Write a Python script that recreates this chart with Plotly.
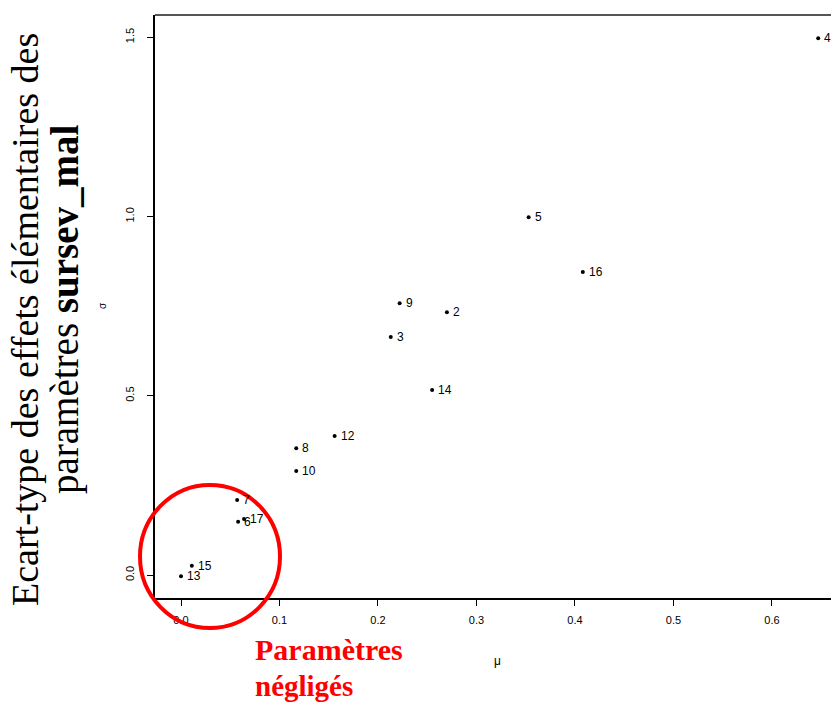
import plotly.graph_objects as go

# Morris screening results: mean (mu) and standard deviation (sigma) of elementary effects
params = ["4", "5", "16", "9", "2", "3", "14", "12", "8", "10", "7", "6", "17", "15", "13"]
mu = [0.647, 0.353, 0.408, 0.222, 0.270, 0.213, 0.255, 0.156, 0.117, 0.117, 0.057, 0.058, 0.064, 0.011, 0.000]
sigma = [1.497, 0.998, 0.845, 0.758, 0.733, 0.664, 0.516, 0.388, 0.354, 0.290, 0.209, 0.149, 0.156, 0.026, -0.003]

x_ticks = [0.0, 0.1, 0.2, 0.3, 0.4, 0.5, 0.6]
y_ticks = [0.0, 0.5, 1.0, 1.5]

W, H = 831, 705
ML, MR, MT, MB = 155, 0, 15, 107
PW, PH = W - ML - MR, H - MT - MB


def px(xpix):
    return (xpix - ML) / PW


def py(ypix):
    return (H - MB - ypix) / PH


fig = go.Figure()
fig.add_trace(go.Scatter(
    x=mu, y=sigma, mode="markers",
    marker=dict(color="black", size=4),
    cliponaxis=False, hoverinfo="skip", showlegend=False,
))

# Parameter numbers written just to the right of each point
for name, xv, yv in zip(params, mu, sigma):
    fig.add_annotation(x=xv, y=yv, xref="x", yref="y", text=name, showarrow=False,
                       xanchor="left", yanchor="middle", xshift=4,
                       font=dict(family="Liberation Sans, Arial", size=12, color="black"))

axis_font = dict(family="Liberation Sans, Arial", size=11, color="black")
fig.update_layout(
    width=W, height=H,
    margin=dict(l=ML, r=MR, t=MT, b=MB),
    paper_bgcolor="white", plot_bgcolor="white",
    xaxis=dict(range=[-0.0264, 0.660], tickvals=x_ticks,
               ticktext=[f"{v:.1f}" for v in x_ticks],
               showgrid=False, zeroline=False, showline=True, linecolor="black",
               linewidth=1.5, ticks="outside", ticklen=6, ticklabelstandoff=5,
               tickcolor="black", tickfont=axis_font),
    yaxis=dict(range=[-0.064, 1.562], tickvals=y_ticks,
               ticktext=[f"{v:.1f}" for v in y_ticks], tickangle=-90,
               showgrid=False, zeroline=False, showline=True, linecolor="black",
               linewidth=2, ticks="outside", ticklen=6, ticklabelstandoff=9,
               tickcolor="black", tickfont=axis_font),
    font=dict(family="Liberation Sans, Arial", color="black"),
)

# Top frame line
fig.add_shape(type="line", xref="paper", yref="paper", x0=0, x1=1, y0=1, y1=1,
              line=dict(color="#555555", width=2))

serif = "Liberation Serif, Times New Roman"
annotations = [
    dict(text="Ecart-type des effets élémentaires des", x=px(25), y=py(320),
         textangle=-90, font=dict(family=serif, size=38, color="black")),
    dict(text="paramètres <b>sursev_mal</b>", x=px(65), y=py(309),
         textangle=-90, font=dict(family=serif, size=39, color="black")),
    dict(text="σ", x=px(102), y=py(306), textangle=-90,
         font=dict(family="Liberation Sans, Arial", size=10, color="black")),
    dict(text="μ", x=px(497), y=py(661),
         font=dict(family="Liberation Sans, Arial", size=12, color="black")),
    dict(text="<b>Paramètres</b>", x=px(253), y=py(649), xanchor="left",
         font=dict(family=serif, size=30, color="red")),
    dict(text="<b>négligés</b>", x=px(253), y=py(686), xanchor="left",
         font=dict(family=serif, size=29, color="red")),
]
for a in annotations:
    a.setdefault("xanchor", "center")
    fig.add_annotation(xref="paper", yref="paper", yanchor="middle", showarrow=False, **a)

# Red circle around the negligible parameters
fig.add_shape(type="circle", xref="paper", yref="paper",
              x0=px(140), x1=px(280), y0=py(628), y1=py(485),
              line=dict(color="red", width=4))

fig.write_html("out.html")
